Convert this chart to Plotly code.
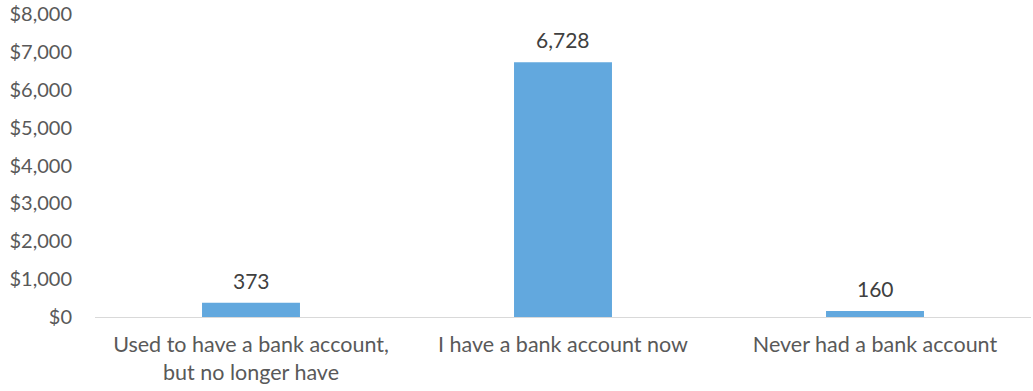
import plotly.graph_objects as go

categories = ["Used to have a bank account,<br>but no longer have",
              "I have a bank account now",
              "Never had a bank account"]
values = [373, 6728, 160]
tick_vals = [0, 1000, 2000, 3000, 4000, 5000, 6000, 7000, 8000]
tick_text = ["$0", "$1,000", "$2,000", "$3,000", "$4,000", "$5,000", "$6,000", "$7,000", "$8,000"]

font_family = "Lato, 'Open Sans', sans-serif"

fig = go.Figure(go.Bar(
    x=categories,
    y=values,
    marker=dict(color="#62A8DE", line=dict(width=0)),
    width=0.314,
    cliponaxis=False,
))

# value labels above each bar
for cat, v in zip(categories, values):
    fig.add_annotation(
        x=cat, y=v, text=f"{v:,}", showarrow=False,
        yanchor="bottom", yshift=8,
        font=dict(family=font_family, size=21, color="#404040"),
    )

fig.update_layout(
    width=1033, height=391,
    margin=dict(l=95, r=2, t=14, b=74),
    paper_bgcolor="white", plot_bgcolor="white",
    showlegend=False,
    font=dict(family=font_family, size=20, color="#595959"),
    xaxis=dict(
        showline=True, linecolor="#D9D9D9", linewidth=1,
        showgrid=False, ticks="", tickfont=dict(size=21.5, color="#595959"),
        ticklabelstandoff=8,
        fixedrange=True,
    ),
    yaxis=dict(
        range=[0, 8000], tickvals=tick_vals, ticktext=tick_text,
        showgrid=False, zeroline=False, showline=False, ticks="",
        ticklabelstandoff=22,
        tickfont=dict(size=20, color="#595959"),
        fixedrange=True,
    ),
)

fig.write_html("out.html")
